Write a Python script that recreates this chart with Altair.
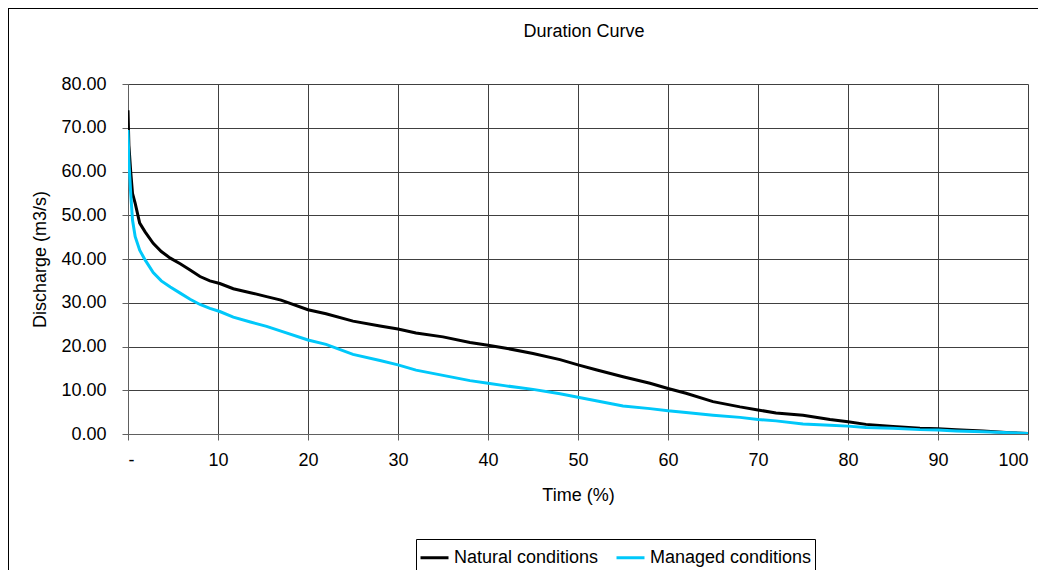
import altair as alt
import pandas as pd

# Time (% of time exceeded)
times = [0, 0.1, 0.3, 0.5, 0.8, 1.3, 1.9, 2.8, 3.7, 4.7, 5.8, 6.9, 8, 9.1, 10.2,
         11.7, 13.6, 15.4, 17, 20, 22, 25, 28, 30, 32, 35, 38, 40, 42, 45, 48,
         50, 52, 55, 58, 60, 62, 65, 68, 70, 72, 75, 78, 80, 82, 85, 88, 90,
         92, 95, 98, 100]

natural = [74.0, 66.0, 60.0, 55.0, 52.7, 48.2, 46.2, 43.6, 41.7, 40.2, 38.9,
           37.5, 36.0, 35.0, 34.4, 33.2, 32.3, 31.4, 30.6, 28.4, 27.5, 25.8,
           24.7, 24.0, 23.1, 22.2, 20.9, 20.3, 19.6, 18.4, 17.0, 15.8, 14.7,
           13.1, 11.6, 10.4, 9.3, 7.4, 6.2, 5.5, 4.8, 4.3, 3.3, 2.8, 2.2, 1.7,
           1.3, 1.2, 1.0, 0.7, 0.3, 0.1]

managed = [69.5, 62.5, 55.0, 48.9, 45.1, 42.0, 39.8, 36.9, 35.0, 33.6, 32.2,
           30.8, 29.6, 28.7, 28.0, 26.7, 25.6, 24.6, 23.5, 21.5, 20.5, 18.2,
           16.8, 15.8, 14.6, 13.4, 12.2, 11.6, 11.0, 10.2, 9.2, 8.4, 7.6, 6.4,
           5.8, 5.3, 4.9, 4.3, 3.8, 3.3, 3.0, 2.3, 2.0, 1.8, 1.5, 1.3, 1.0,
           0.9, 0.7, 0.5, 0.3, 0.1]

series_names = ["Natural conditions", "Managed conditions"]
series_colors = ["#000000", "#00C8FA"]

x_ticks = [0, 10, 20, 30, 40, 50, 60, 70, 80, 90, 100]
y_ticks = [0, 10, 20, 30, 40, 50, 60, 70, 80]

chart_title = "Duration Curve"
x_title = "Time (%)"
y_title = "Discharge (m3/s)"

rows = []
for t, n, m in zip(times, natural, managed):
    rows.append({"time": t, "q": n, "series": series_names[0]})
    rows.append({"time": t, "q": m, "series": series_names[1]})
df = pd.DataFrame(rows)

FONT = "Liberation Sans"
FS = 18

lines = alt.Chart(df).mark_line(strokeWidth=3, clip=True).encode(
    x=alt.X("time:Q",
            scale=alt.Scale(domain=[0, 100], nice=False),
            axis=alt.Axis(values=x_ticks, title=x_title,
                          labelExpr="datum.value == 0 ? '-' : datum.label",
                          format="d", tickSize=6, labelPadding=11,
                          titleY=61, titleBaseline="middle",
                          gridColor="#404040", domainColor="#606060",
                          tickColor="#606060")),
    y=alt.Y("q:Q",
            scale=alt.Scale(domain=[0, 80], nice=False),
            axis=alt.Axis(values=y_ticks, title=y_title, format=".2f",
                          tickSize=6, labelPadding=16,
                          titleX=-88, titleY=175, titleAngle=270,
                          titleAlign="center", titleBaseline="middle",
                          gridColor="#404040", domainColor="#606060",
                          tickColor="#606060")),
    color=alt.Color("series:N",
                    scale=alt.Scale(domain=series_names, range=series_colors),
                    sort=series_names,
                    legend=alt.Legend(orient="none", legendX=288, legendY=455,
                                      direction="horizontal", title=None,
                                      symbolType="stroke", symbolStrokeWidth=3,
                                      symbolSize=784, labelOffset=4,
                                      columnPadding=11, padding=3,
                                      labelLimit=400,
                                      strokeColor="#000000", fillColor="#ffffff",
                                      labelFontSize=FS, labelFont=FONT,
                                      labelColor="#000000")),
)

one = pd.DataFrame({"k": [0]})
title_mark = alt.Chart(one).mark_text(
    font=FONT, fontSize=FS, color="#000000", align="center", baseline="middle"
).encode(x=alt.value(456), y=alt.value(-52), text=alt.value(chart_title))

frame_left = alt.Chart(one).mark_rule(color="#000000", strokeWidth=1).encode(
    x=alt.value(-119.5), y=alt.value(-76.5), y2=alt.value(490))
frame_top = alt.Chart(one).mark_rule(color="#000000", strokeWidth=1).encode(
    x=alt.value(-119.5), x2=alt.value(930), y=alt.value(-75.5))

chart = alt.layer(lines, title_mark, frame_left, frame_top).properties(
    width=900, height=350,
    padding={"left": 120, "top": 76, "right": 10, "bottom": 136},
    autosize=alt.AutoSizeParams(type="none"),
).configure_axis(
    labelFont=FONT, titleFont=FONT, labelFontSize=FS, titleFontSize=FS,
    titleFontWeight="normal", labelColor="#000000", titleColor="#000000",
    gridOpacity=1, gridWidth=1,
).configure_view(strokeWidth=0)

chart.save("out.html", embed_options={"renderer": "svg", "actions": False})
